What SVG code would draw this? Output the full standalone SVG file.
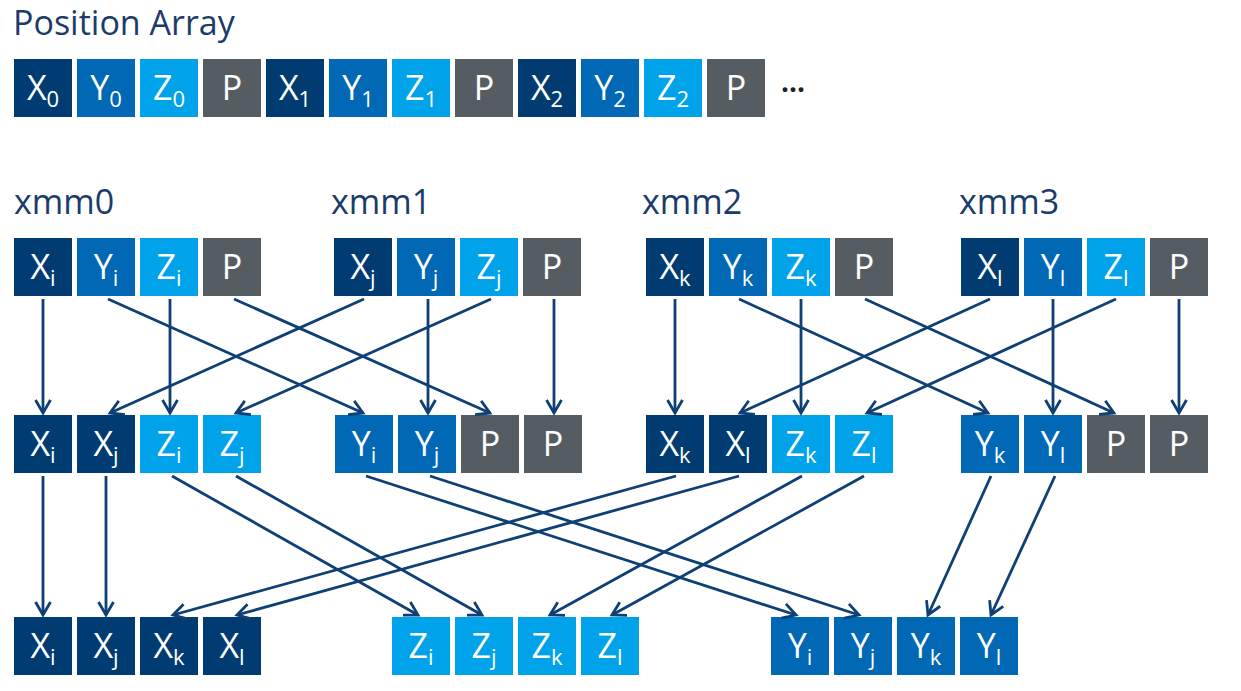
<svg xmlns="http://www.w3.org/2000/svg" width="1241" height="691" viewBox="0 0 1241 691">
<style>
.bg{fill:#ffffff}
.title{font-family:"Open Sans","Noto Sans",sans-serif;font-size:34px;fill:#1b3c6b}
.lab{font-family:"Open Sans","Noto Sans",sans-serif;font-size:34px;fill:#ffffff;text-anchor:middle}
.sub{font-size:22px}
.X{fill:#003c71}
.Y{fill:#0068b5}
.Z{fill:#00a3ea}
.P{fill:#555d63}
.conn line{stroke:#0e3f75;stroke-width:2.8;fill:none;marker-end:url(#ah)}
.dots{font-family:"Open Sans","Noto Sans",sans-serif;font-size:28px;font-weight:bold;fill:#222222}
</style>
<defs>
<marker id="ah" markerUnits="userSpaceOnUse" markerWidth="20" markerHeight="20" viewBox="0 0 20 20" refX="17" refY="10" orient="auto">
<path d="M4,2.5 L17,10 L4,17.5" fill="none" stroke="#0e3f75" stroke-width="2.8"/>
</marker>
</defs>
<rect class="bg" x="0" y="0" width="1241" height="691"/>

<g id="title"><text class="title" x="13" y="35">Position Array</text></g>

<g id="pos-array">
<g id="pa0"><rect class="X" x="14" y="59" width="58" height="58"/><text class="lab" x="43" y="100">X<tspan class="sub" dy="7">0</tspan></text></g>
<g id="pa1"><rect class="Y" x="77" y="59" width="58" height="58"/><text class="lab" x="106" y="100">Y<tspan class="sub" dy="7">0</tspan></text></g>
<g id="pa2"><rect class="Z" x="140" y="59" width="58" height="58"/><text class="lab" x="169" y="100">Z<tspan class="sub" dy="7">0</tspan></text></g>
<g id="pa3"><rect class="P" x="203" y="59" width="58" height="58"/><text class="lab" x="232" y="100">P</text></g>
<g id="pa4"><rect class="X" x="266" y="59" width="58" height="58"/><text class="lab" x="295" y="100">X<tspan class="sub" dy="7">1</tspan></text></g>
<g id="pa5"><rect class="Y" x="329" y="59" width="58" height="58"/><text class="lab" x="358" y="100">Y<tspan class="sub" dy="7">1</tspan></text></g>
<g id="pa6"><rect class="Z" x="392" y="59" width="58" height="58"/><text class="lab" x="421" y="100">Z<tspan class="sub" dy="7">1</tspan></text></g>
<g id="pa7"><rect class="P" x="455" y="59" width="58" height="58"/><text class="lab" x="484" y="100">P</text></g>
<g id="pa8"><rect class="X" x="518" y="59" width="58" height="58"/><text class="lab" x="547" y="100">X<tspan class="sub" dy="7">2</tspan></text></g>
<g id="pa9"><rect class="Y" x="581" y="59" width="58" height="58"/><text class="lab" x="610" y="100">Y<tspan class="sub" dy="7">2</tspan></text></g>
<g id="pa10"><rect class="Z" x="644" y="59" width="58" height="58"/><text class="lab" x="673" y="100">Z<tspan class="sub" dy="7">2</tspan></text></g>
<g id="pa11"><rect class="P" x="707" y="59" width="58" height="58"/><text class="lab" x="736" y="100">P</text></g>
<text class="dots" x="781" y="92">...</text>
</g>

<g id="reg-labels">
<text class="title" x="14" y="214">xmm0</text>
<text class="title" x="331" y="214">xmm1</text>
<text class="title" x="642" y="214">xmm2</text>
<text class="title" x="959" y="214">xmm3</text>
</g>

<g id="xmm0">
<g id="r2-xi"><rect class="X" x="14" y="238" width="58" height="58"/><text class="lab" x="43" y="279">X<tspan class="sub" dy="7">i</tspan></text></g>
<g id="r2-yi"><rect class="Y" x="77" y="238" width="58" height="58"/><text class="lab" x="106" y="279">Y<tspan class="sub" dy="7">i</tspan></text></g>
<g id="r2-zi"><rect class="Z" x="140" y="238" width="58" height="58"/><text class="lab" x="169" y="279">Z<tspan class="sub" dy="7">i</tspan></text></g>
<g id="r2-pi"><rect class="P" x="203" y="238" width="58" height="58"/><text class="lab" x="232" y="279">P</text></g>
</g>
<g id="xmm1">
<g id="r2-xj"><rect class="X" x="334" y="238" width="58" height="58"/><text class="lab" x="363" y="279">X<tspan class="sub" dy="7">j</tspan></text></g>
<g id="r2-yj"><rect class="Y" x="397" y="238" width="58" height="58"/><text class="lab" x="426" y="279">Y<tspan class="sub" dy="7">j</tspan></text></g>
<g id="r2-zj"><rect class="Z" x="460" y="238" width="58" height="58"/><text class="lab" x="489" y="279">Z<tspan class="sub" dy="7">j</tspan></text></g>
<g id="r2-pj"><rect class="P" x="523" y="238" width="58" height="58"/><text class="lab" x="552" y="279">P</text></g>
</g>
<g id="xmm2">
<g id="r2-xk"><rect class="X" x="646" y="238" width="58" height="58"/><text class="lab" x="675" y="279">X<tspan class="sub" dy="7">k</tspan></text></g>
<g id="r2-yk"><rect class="Y" x="709" y="238" width="58" height="58"/><text class="lab" x="738" y="279">Y<tspan class="sub" dy="7">k</tspan></text></g>
<g id="r2-zk"><rect class="Z" x="772" y="238" width="58" height="58"/><text class="lab" x="801" y="279">Z<tspan class="sub" dy="7">k</tspan></text></g>
<g id="r2-pk"><rect class="P" x="835" y="238" width="58" height="58"/><text class="lab" x="864" y="279">P</text></g>
</g>
<g id="xmm3">
<g id="r2-xl"><rect class="X" x="961" y="238" width="58" height="58"/><text class="lab" x="990" y="279">X<tspan class="sub" dy="7">l</tspan></text></g>
<g id="r2-yl"><rect class="Y" x="1024" y="238" width="58" height="58"/><text class="lab" x="1053" y="279">Y<tspan class="sub" dy="7">l</tspan></text></g>
<g id="r2-zl"><rect class="Z" x="1087" y="238" width="58" height="58"/><text class="lab" x="1116" y="279">Z<tspan class="sub" dy="7">l</tspan></text></g>
<g id="r2-pl"><rect class="P" x="1150" y="238" width="58" height="58"/><text class="lab" x="1179" y="279">P</text></g>
</g>

<g id="row3">
<g id="r3-xi"><rect class="X" x="14" y="415" width="58" height="58"/><text class="lab" x="43" y="456">X<tspan class="sub" dy="7">i</tspan></text></g>
<g id="r3-xj"><rect class="X" x="77" y="415" width="58" height="58"/><text class="lab" x="106" y="456">X<tspan class="sub" dy="7">j</tspan></text></g>
<g id="r3-zi"><rect class="Z" x="140" y="415" width="58" height="58"/><text class="lab" x="169" y="456">Z<tspan class="sub" dy="7">i</tspan></text></g>
<g id="r3-zj"><rect class="Z" x="203" y="415" width="58" height="58"/><text class="lab" x="232" y="456">Z<tspan class="sub" dy="7">j</tspan></text></g>
<g id="r3-yi"><rect class="Y" x="335" y="415" width="58" height="58"/><text class="lab" x="364" y="456">Y<tspan class="sub" dy="7">i</tspan></text></g>
<g id="r3-yj"><rect class="Y" x="398" y="415" width="58" height="58"/><text class="lab" x="427" y="456">Y<tspan class="sub" dy="7">j</tspan></text></g>
<g id="r3-p1"><rect class="P" x="461" y="415" width="58" height="58"/><text class="lab" x="490" y="456">P</text></g>
<g id="r3-p2"><rect class="P" x="524" y="415" width="58" height="58"/><text class="lab" x="553" y="456">P</text></g>
<g id="r3-xk"><rect class="X" x="646" y="415" width="58" height="58"/><text class="lab" x="675" y="456">X<tspan class="sub" dy="7">k</tspan></text></g>
<g id="r3-xl"><rect class="X" x="709" y="415" width="58" height="58"/><text class="lab" x="738" y="456">X<tspan class="sub" dy="7">l</tspan></text></g>
<g id="r3-zk"><rect class="Z" x="772" y="415" width="58" height="58"/><text class="lab" x="801" y="456">Z<tspan class="sub" dy="7">k</tspan></text></g>
<g id="r3-zl"><rect class="Z" x="835" y="415" width="58" height="58"/><text class="lab" x="864" y="456">Z<tspan class="sub" dy="7">l</tspan></text></g>
<g id="r3-yk"><rect class="Y" x="961" y="415" width="58" height="58"/><text class="lab" x="990" y="456">Y<tspan class="sub" dy="7">k</tspan></text></g>
<g id="r3-yl"><rect class="Y" x="1024" y="415" width="58" height="58"/><text class="lab" x="1053" y="456">Y<tspan class="sub" dy="7">l</tspan></text></g>
<g id="r3-p3"><rect class="P" x="1087" y="415" width="58" height="58"/><text class="lab" x="1116" y="456">P</text></g>
<g id="r3-p4"><rect class="P" x="1150" y="415" width="58" height="58"/><text class="lab" x="1179" y="456">P</text></g>
</g>

<g id="row4">
<g id="r4-xi"><rect class="X" x="14" y="617" width="58" height="58"/><text class="lab" x="43" y="658">X<tspan class="sub" dy="7">i</tspan></text></g>
<g id="r4-xj"><rect class="X" x="77" y="617" width="58" height="58"/><text class="lab" x="106" y="658">X<tspan class="sub" dy="7">j</tspan></text></g>
<g id="r4-xk"><rect class="X" x="140" y="617" width="58" height="58"/><text class="lab" x="169" y="658">X<tspan class="sub" dy="7">k</tspan></text></g>
<g id="r4-xl"><rect class="X" x="203" y="617" width="58" height="58"/><text class="lab" x="232" y="658">X<tspan class="sub" dy="7">l</tspan></text></g>
<g id="r4-zi"><rect class="Z" x="392" y="617" width="58" height="58"/><text class="lab" x="421" y="658">Z<tspan class="sub" dy="7">i</tspan></text></g>
<g id="r4-zj"><rect class="Z" x="455" y="617" width="58" height="58"/><text class="lab" x="484" y="658">Z<tspan class="sub" dy="7">j</tspan></text></g>
<g id="r4-zk"><rect class="Z" x="518" y="617" width="58" height="58"/><text class="lab" x="547" y="658">Z<tspan class="sub" dy="7">k</tspan></text></g>
<g id="r4-zl"><rect class="Z" x="581" y="617" width="58" height="58"/><text class="lab" x="610" y="658">Z<tspan class="sub" dy="7">l</tspan></text></g>
<g id="r4-yi"><rect class="Y" x="771" y="617" width="58" height="58"/><text class="lab" x="800" y="658">Y<tspan class="sub" dy="7">i</tspan></text></g>
<g id="r4-yj"><rect class="Y" x="834" y="617" width="58" height="58"/><text class="lab" x="863" y="658">Y<tspan class="sub" dy="7">j</tspan></text></g>
<g id="r4-yk"><rect class="Y" x="897" y="617" width="58" height="58"/><text class="lab" x="926" y="658">Y<tspan class="sub" dy="7">k</tspan></text></g>
<g id="r4-yl"><rect class="Y" x="960" y="617" width="58" height="58"/><text class="lab" x="989" y="658">Y<tspan class="sub" dy="7">l</tspan></text></g>
</g>

<g id="connectors" class="conn">
<line x1="43" y1="299" x2="43" y2="413"/>
<line x1="108" y1="299" x2="363" y2="413"/>
<line x1="170" y1="299" x2="170" y2="413"/>
<line x1="234" y1="299" x2="490" y2="413"/>
<line x1="364" y1="299" x2="110" y2="413"/>
<line x1="428" y1="299" x2="428" y2="413"/>
<line x1="491" y1="299" x2="236" y2="413"/>
<line x1="554" y1="299" x2="554" y2="413"/>

<line x1="675" y1="299" x2="675" y2="413"/>
<line x1="739" y1="299" x2="988" y2="413"/>
<line x1="801" y1="299" x2="801" y2="413"/>
<line x1="865" y1="299" x2="1114" y2="413"/>
<line x1="990" y1="299" x2="740" y2="413"/>
<line x1="1053" y1="299" x2="1053" y2="413"/>
<line x1="1116" y1="299" x2="867" y2="413"/>
<line x1="1179" y1="299" x2="1179" y2="413"/>

<line x1="43" y1="476" x2="43" y2="615"/>
<line x1="106" y1="476" x2="106" y2="615"/>
<line x1="172" y1="476" x2="418" y2="615"/>
<line x1="236" y1="476" x2="482" y2="615"/>
<line x1="366" y1="476" x2="796" y2="615"/>
<line x1="430" y1="476" x2="859" y2="615"/>
<line x1="676" y1="476" x2="173" y2="615"/>
<line x1="739" y1="476" x2="237" y2="615"/>
<line x1="802" y1="476" x2="550" y2="615"/>
<line x1="864" y1="476" x2="612" y2="615"/>
<line x1="991" y1="476" x2="928" y2="615"/>
<line x1="1055" y1="476" x2="991" y2="615"/>
</g>
</svg>
